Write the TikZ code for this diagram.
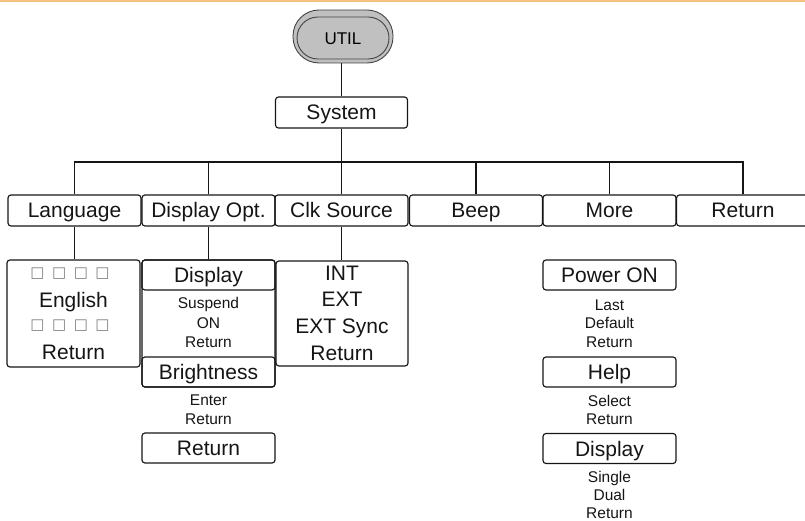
\documentclass[tikz,border=0pt]{standalone}
\usepackage{fontspec}
\setmainfont{Liberation Sans}
\newfontfamily\symfont{DejaVu Sans}
\definecolor{topline}{HTML}{F6C27F}
\definecolor{pillgray}{HTML}{C0C0C0}
\definecolor{ink}{HTML}{151515}
\begin{document}
\begin{tikzpicture}[x=1pt,y=-1pt,line width=1.15pt,draw=ink,
  big/.style={font=\fontsize{21}{25}\selectfont,text height=15pt,text depth=0pt,inner sep=0pt,text=ink},
  small/.style={font=\fontsize{15.5}{18}\selectfont,text height=11.1pt,text depth=0pt,inner sep=0pt,text=ink},
  sq/.style={font=\fontsize{15}{18}\symfont,text height=10pt,text depth=0pt,inner sep=0pt,text=gray},
  box/.style={draw=ink,rounded corners=3pt,minimum width=133pt,minimum height=31pt,big},
  frame/.style={draw=ink,rounded corners=3pt,inner sep=0pt},
  pill/.style={draw=ink!80,line width=0.9pt,fill=pillgray,inner sep=0pt}]
\useasboundingbox (0,0) rectangle (805,521);
\begin{scope}
\clip (0,0) rectangle (805,521);
\fill[topline] (0,0) rectangle (805,2);
% UTIL key
\node[pill,rounded corners=26pt,minimum width=100pt,minimum height=53pt] (util) at (343,36.5) {};
\node[pill,rounded corners=21pt,minimum width=92pt,minimum height=42pt,
      font=\fontsize{17}{20}\selectfont,text height=12.2pt,text depth=0pt] (utilin) at (343,38) {UTIL};
% System
\node[box,minimum width=132pt] (sys) at (341.5,112.5) {System};
% top row
\node[box] (lang) at (74.5,210.5) {Language};
\node[box] (dopt) at (208.5,210.5) {Display Opt.};
\node[box] (clk)  at (341.5,210.5) {Clk Source};
\node[box] (beep) at (476,210.5) {Beep};
\node[box] (more) at (609.5,210.5) {More};
\node[box] (ret)  at (743,210.5) {Return};
\coordinate (bus) at (342,162);
\draw (sys.north) -- (sys.north |- util.south);
\draw (sys.south) -- (sys.south |- bus);
\draw (lang.north) -- (lang.north |- bus) -- (ret.north |- bus) -- (ret.north);
\draw (dopt.north) -- (dopt.north |- bus);
\draw (clk.north) -- (clk.north |- bus);
\draw (beep.north) -- (beep.north |- bus);
\draw (more.north) -- (more.north |- bus);
% Language submenu
\node[frame,minimum width=133pt,minimum height=107pt] (langsub) at (73.5,313.5) {};
\node[sq] (l1) at (70,272) {\makebox[21.7pt]{□}\makebox[21.7pt]{□}\makebox[21.7pt]{□}\makebox[21.7pt]{□}};
\node[big] (l2) at (73.5,300) {English};
\node[sq] (l3) at (70,324) {\makebox[21.7pt]{□}\makebox[21.7pt]{□}\makebox[21.7pt]{□}\makebox[21.7pt]{□}};
\node[big] (l4) at (73.5,352) {Return};
\draw (lang.south) -- (lang.south |- langsub.north);
% Display Opt. submenu
\node[frame,minimum width=133pt,minimum height=127pt] (dsub) at (208.5,323.5) {};
\node[box,minimum height=30pt] (dhead) at (208.5,275) {Display};
\node[small] (d1) at (208.5,303) {Suspend};
\node[small] (d2) at (208.5,323) {ON};
\node[small] (d3) at (208.5,342) {Return};
\node[box,minimum height=30pt] (bright) at (208.5,372) {Brightness};
\node[small] (b1) at (208.5,400) {Enter};
\node[small] (b2) at (208.5,418.5) {Return};
\node[box,minimum height=30pt] (dret) at (208.5,448) {Return};
\draw (dopt.south) -- (dsub.north);
% Clk Source submenu
\node[frame,minimum width=132pt,minimum height=105pt] (csub) at (342,313.5) {};
\node[big] (c1) at (342,272.5) {INT};
\node[big] (c2) at (342,299) {EXT};
\node[big] (c3) at (342,326) {EXT Sync};
\node[big] (c4) at (342,352.5) {Return};
\draw (clk.south) -- (clk.south |- csub.north);
% More submenu
\node[box,minimum height=30pt] (pwr) at (609.5,275) {Power ON};
\node[small] (p1) at (609.5,304.5) {Last};
\node[small] (p2) at (609.5,323.3) {Default};
\node[small] (p3) at (609.5,342.3) {Return};
\node[box,minimum height=30pt] (help) at (609.5,372) {Help};
\node[small] (h1) at (609.5,400.5) {Select};
\node[small] (h2) at (609.5,419) {Return};
\node[box,minimum height=30pt] (mdisp) at (609.5,448.5) {Display};
\node[small] (m1) at (609.5,476.5) {Single};
\node[small] (m2) at (609.5,494.5) {Dual};
\node[small] (m3) at (609.5,512.5) {Return};
\end{scope}
\end{tikzpicture}
\end{document}
